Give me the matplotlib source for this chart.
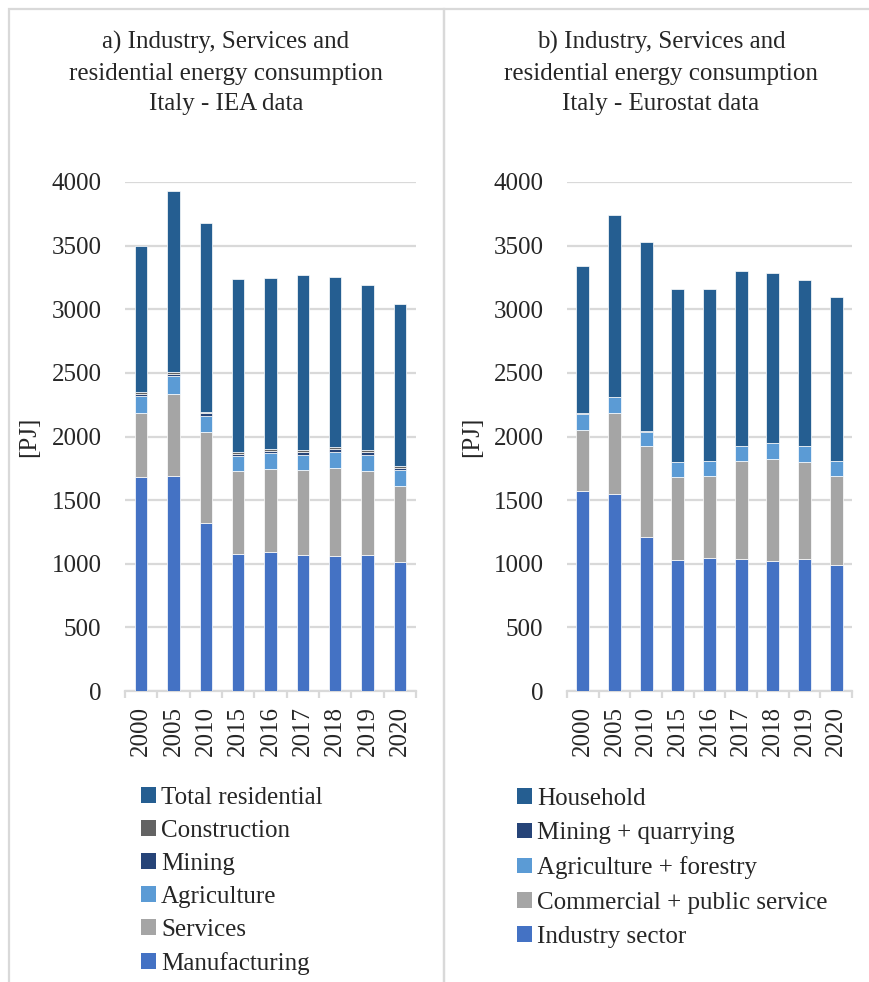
import matplotlib
matplotlib.use("Agg")
import matplotlib.pyplot as plt
from matplotlib.patches import Rectangle, Patch
import numpy as np

plt.rcParams['font.family'] = ['Liberation Serif', 'DejaVu Serif']

years = ["2000", "2005", "2010", "2015", "2016", "2017", "2018", "2019", "2020"]

# Panel a) IEA data [PJ]
iea_manufacturing = [1685, 1693, 1323, 1080, 1095, 1072, 1064, 1072, 1017]
iea_services      = [500, 642, 716, 647, 650, 663, 689, 660, 595]
iea_agriculture   = [130, 141, 125, 120, 123, 123, 128, 123, 125]
iea_mining        = [20, 16, 18, 16, 18, 20, 20, 22, 16]
iea_construction  = [15, 18, 12, 12, 16, 15, 17, 16, 16]
iea_residential   = [1150, 1418, 1484, 1365, 1347, 1373, 1334, 1294, 1273]

# Panel b) Eurostat data [PJ]
eu_industry    = [1570, 1551, 1208, 1032, 1046, 1038, 1025, 1038, 993]
eu_commercial  = [484, 635, 716, 650, 647, 768, 797, 765, 695]
eu_agriculture = [126, 125, 115, 116, 113, 118, 125, 121, 120]
eu_mining      = [3, 3, 3, 3, 3, 3, 3, 3, 3]
eu_household   = [1156, 1428, 1485, 1359, 1351, 1375, 1334, 1302, 1284]

iea_labels = ["Manufacturing", "Services", "Agriculture", "Mining", "Construction", "Total residential"]
eu_labels = ["Industry sector", "Commercial + public service", "Agriculture + forestry",
             "Mining + quarrying", "Household"]

c_manuf = "#4472C4"
c_serv = "#A5A5A5"
c_agri = "#5B9BD5"
c_mine = "#264478"
c_cons = "#636363"
c_res = "#255E91"

iea_colors = [c_manuf, c_serv, c_agri, c_mine, c_cons, c_res]
eu_colors = [c_manuf, c_serv, c_agri, c_mine, c_res]

W, H = 869, 982
fig = plt.figure(figsize=(W / 100, H / 100), dpi=100)

grid_c = "#D9D9D9"
FS = 18


def px_axes(x0, x1, ytop, ybot):
    return fig.add_axes([x0 / W, (H - ybot) / H, (x1 - x0) / W, (ybot - ytop) / H])


def draw_panel(ax, series, colors, labels, width):
    x = np.arange(len(years))
    bottom = np.zeros(len(years))
    handles = []
    for vals, col, lab in zip(series, colors, labels):
        v = np.array(vals, dtype=float)
        ax.bar(x, v, width, bottom=bottom, color=col, edgecolor="white",
               linewidth=0.5, zorder=3, label=lab)
        bottom += v
        handles.append(Patch(facecolor=col, edgecolor="none", label=lab))
    ax.set_xlim(-0.5, len(years) - 0.5)
    ax.set_ylim(0, 4000)
    ax.set_yticks(np.arange(0, 4001, 500))
    ax.yaxis.grid(True, color=grid_c, linewidth=1.6, zorder=0)
    ax.set_axisbelow(True)
    for s in ["top", "right", "left"]:
        ax.spines[s].set_visible(False)
    ax.spines["bottom"].set_color(grid_c)
    ax.spines["bottom"].set_linewidth(1.6)
    ax.set_xticks(x)
    ax.set_xticklabels(years, rotation=90, fontsize=FS, va="top")
    ax.set_xticks(np.arange(-0.5, len(years), 1.0), minor=True)
    ax.tick_params(axis="x", which="major", length=0, pad=11)
    ax.tick_params(axis="x", which="minor", length=5, width=1.6, color=grid_c)
    ax.tick_params(axis="y", length=0, labelsize=FS, pad=17)
    for t in ax.get_yticklabels():
        t.set_color("#262626")
    for t in ax.get_xticklabels():
        t.set_color("#262626")
    return handles


axL = px_axes(125, 416, 182, 691)
hL = draw_panel(axL, [iea_manufacturing, iea_services, iea_agriculture, iea_mining,
                      iea_construction, iea_residential], iea_colors, iea_labels, 0.39)
axR = px_axes(567, 852, 182, 691)
hR = draw_panel(axR, [eu_industry, eu_commercial, eu_agriculture, eu_mining,
                      eu_household], eu_colors, eu_labels, 0.41)

# Panel frames
fig.patches.append(Rectangle((9 / W, -0.01), (444 - 9) / W, (H - 9) / H + 0.01,
                             transform=fig.transFigure, fill=False,
                             edgecolor=grid_c, linewidth=1.6))
fig.patches.append(Rectangle((444 / W, -0.01), (W + 5 - 444) / W, (H - 9) / H + 0.01,
                             transform=fig.transFigure, fill=False,
                             edgecolor=grid_c, linewidth=1.6))

# Titles
fig.text(226 / W, 1 - 73 / H,
         "a) Industry, Services and\nresidential energy consumption\nItaly - IEA data",
         ha="center", va="center", fontsize=FS, linespacing=1.5, color="#262626")
fig.text(661 / W, 1 - 73 / H,
         "b) Industry, Services and\nresidential energy consumption\nItaly - Eurostat data",
         ha="center", va="center", fontsize=FS, linespacing=1.5, color="#262626")

# Y labels
fig.text(29 / W, 1 - 437 / H, "[PJ]", rotation=90, ha="center", va="center",
         fontsize=FS, color="#262626")
fig.text(472 / W, 1 - 437 / H, "[PJ]", rotation=90, ha="center", va="center",
         fontsize=FS, color="#262626")

# Legends
legL = fig.legend(handles=hL[::-1], loc="upper left",
                  bbox_to_anchor=(141 / W, 1 - 787 / H), frameon=False,
                  fontsize=FS, handlelength=0.58, handleheight=0.58,
                  handletextpad=0.22, labelspacing=0.44, borderpad=0,
                  borderaxespad=0)
legR = fig.legend(handles=hR[::-1], loc="upper left",
                  bbox_to_anchor=(517 / W, 1 - 788 / H), frameon=False,
                  fontsize=FS, handlelength=0.58, handleheight=0.58,
                  handletextpad=0.22, labelspacing=0.49, borderpad=0,
                  borderaxespad=0)
for leg in (legL, legR):
    for t in leg.get_texts():
        t.set_color("#262626")

fig.savefig("out.png", dpi=100)
